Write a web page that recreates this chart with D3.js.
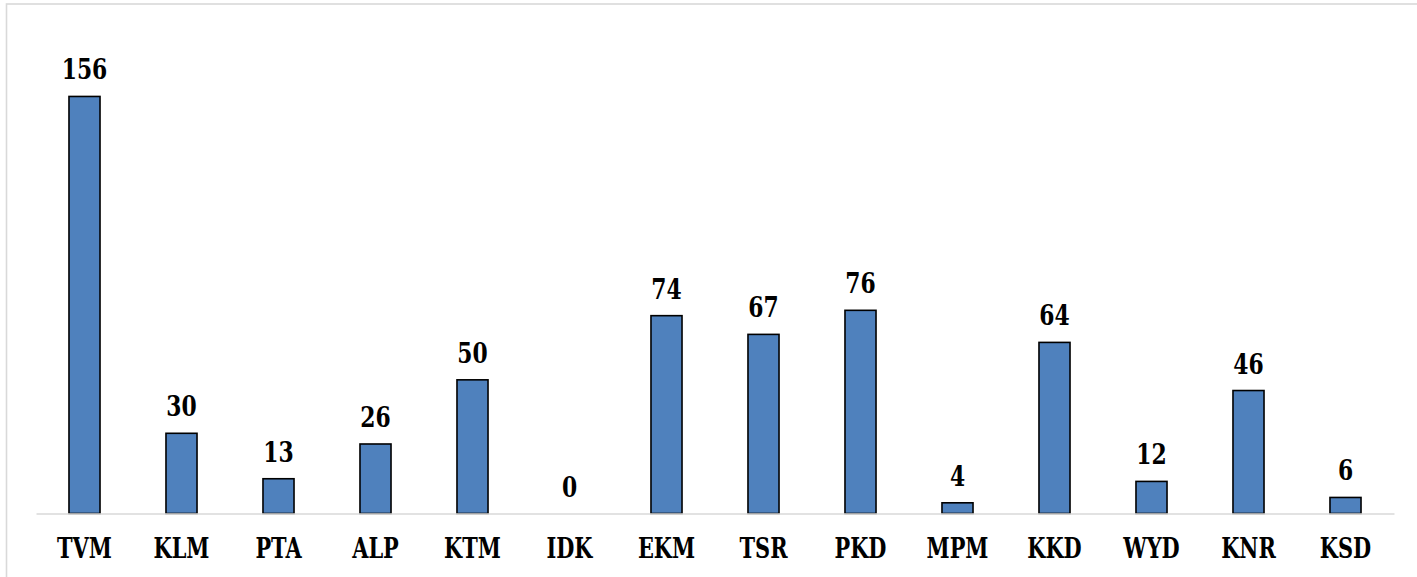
<!DOCTYPE html>
<html>
<head>
<meta charset="utf-8">
<script src="https://cdn.jsdelivr.net/npm/d3@7"></script>
<style>
  html, body { margin: 0; padding: 0; background: #ffffff; }
  svg { display: block; }
  .lbl { font-family: "DejaVu Serif", serif; font-weight: bold; font-stretch: condensed; fill: #000; }
</style>
</head>
<body>
<svg id="chart" width="1417" height="577"></svg>
<script>
// District codes and counts per district
const districts = ["TVM", "KLM", "PTA", "ALP", "KTM", "IDK", "EKM", "TSR", "PKD", "MPM", "KKD", "WYD", "KNR", "KSD"];
const counts = [156, 30, 13, 26, 50, 0, 74, 67, 76, 4, 64, 12, 46, 6];

const W = 1417, H = 577;
const svg = d3.select("#chart");

// outer frame
svg.append("rect")
  .attr("x", 6.5).attr("y", 4)
  .attr("width", W + 10).attr("height", H + 10)
  .attr("fill", "none")
  .attr("stroke", "#d9d9d9")
  .attr("stroke-width", 1.6);

const x = d3.scaleBand()
  .domain(districts)
  .range([36, 1394])
  .paddingInner(0.68)
  .paddingOuter(0.34);

const y = d3.scaleLinear()
  .domain([0, 180])
  .range([513.5, 32.3]);

const data = districts.map((d, i) => ({ d, v: counts[i] }));

// bars
svg.append("g").selectAll("rect")
  .data(data)
  .join("rect")
  .attr("x", d => x(d.d))
  .attr("y", d => y(d.v))
  .attr("width", x.bandwidth())
  .attr("height", d => y(0) - y(d.v))
  .attr("fill", "#4f81bd")
  .attr("stroke", "#000")
  .attr("stroke-width", 1.6);

// category axis (baseline + labels)
const xAxis = d3.axisBottom(x).tickSize(0).tickPadding(0);
const gx = svg.append("g")
  .attr("transform", `translate(0,${y(0)})`)
  .call(xAxis);
gx.select(".domain").attr("stroke", "#d9d9d9").attr("stroke-width", 1.6);
gx.selectAll(".tick text")
  .attr("class", "lbl")
  .attr("dy", null)
  .attr("y", 0)
  .attr("transform", "translate(0,44) scale(0.86,1)")
  .style("font-size", "27px");

// value labels
svg.append("g").selectAll("text")
  .data(data)
  .join("text")
  .attr("class", "lbl")
  .attr("transform", d => `translate(${x(d.d) + x.bandwidth() / 2},${y(d.v) - 17}) scale(0.9,1)`)
  .attr("text-anchor", "middle")
  .style("font-size", "27px")
  .text(d => d.v);
</script>
</body>
</html>
